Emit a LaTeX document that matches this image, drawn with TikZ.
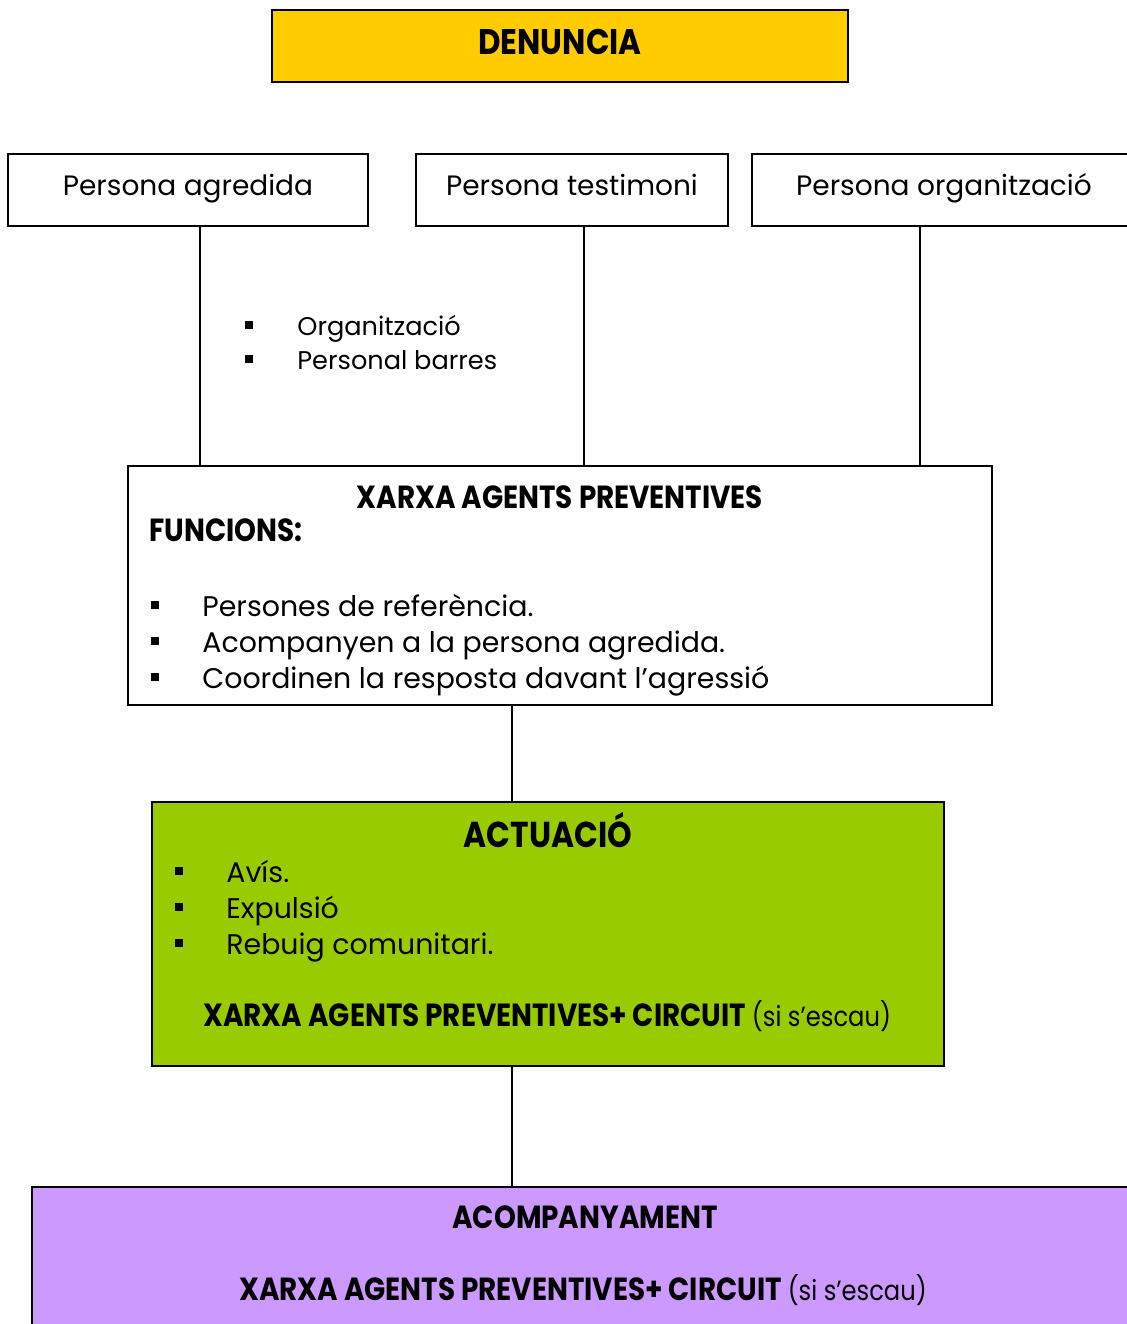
\documentclass[tikz,border=0pt]{standalone}
\usepackage{fontspec}
\setmainfont{Poppins}
\newfontfamily\headfont[FakeStretch=0.87]{Poppins}
\usetikzlibrary{positioning,calc}

\definecolor{denunciayellow}{HTML}{FFCC00}
\definecolor{actuaciogreen}{HTML}{99CC00}
\definecolor{acompanyamentlila}{HTML}{CC99FF}

\tikzset{
  box/.style={draw=black, line width=1pt, rectangle, inner sep=0pt},
  title/.style={font=\headfont\bfseries\fontsize{16}{19}\selectfont, inner sep=0pt},
  body/.style={font=\fontsize{14}{17}\selectfont, inner sep=0pt, anchor=mid west},
  bullet/.style={fill=black, minimum width=3.8pt, minimum height=4.3pt, inner sep=0pt},
  link/.style={line width=0.8pt}
}

\begin{document}
\begin{tikzpicture}[x=0.5pt,y=-0.5pt]
    \useasboundingbox (0,0) rectangle (1126,1324);

    % boxes
    \node (denuncia) [box, fill=denunciayellow, minimum width=288pt, minimum height=36pt] at (560,46) {};
    \node (agredida) [box, minimum width=180pt, minimum height=36pt] at (188,190) {};
    \node (testimoni) [box, minimum width=156pt, minimum height=36pt] at (572,190) {};
    \node (organitzacio) [box, minimum width=194pt, minimum height=36pt] at (946,190) {};
    \node (xarxa) [box, minimum width=432pt, minimum height=119.5pt] at (560,585.5) {};
    \node (actuacio) [box, fill=actuaciogreen, minimum width=396pt, minimum height=132pt] at (548,934) {};
    \node (acompanyament) [box, fill=acompanyamentlila, minimum width=554pt, minimum height=76.5pt] at (586,1263.5) {};

    % connectors
    \draw [link] (agredida.south -| 200,0) -- (xarxa.north -| 200,0);
    \draw [link] (testimoni.south -| 584,0) -- (xarxa.north -| 584,0);
    \draw [link] (organitzacio.south -| 920,0) -- (xarxa.north -| 920,0);
    \draw [link] (xarxa.south -| 512,0) -- (actuacio.north -| 512,0);
    \draw [link] (actuacio.south -| 512,0) -- (acompanyament.north -| 512,0);

    % top texts
    \node (denunciatxt) [title, font=\headfont\bfseries\fontsize{17.8}{21}\selectfont] at (560,42) {DENUNCIA};
    \node (agredidatxt) [body, anchor=mid] at (188,190) {Persona agredida};
    \node (testimonitxt) [body, anchor=mid] at (572,190) {Persona testimoni};
    \node (organitzaciotxt) [body, anchor=mid] at (944,190) {Persona organització};

    % who receives
    \foreach \t [count=\i] in {Organització, Personal barres} {
        \node (qb\i) [bullet] at (249,{291+34*\i}) {};
        \node (qt\i) [body, font=\fontsize{12.8}{15}\selectfont] at (297,{296+34*\i}) {\t};
    }

    % xarxa
    \node (xarxatitle) [title] at (560,497) {XARXA AGENTS PREVENTIVES};
    \node (funcions) [title, anchor=mid west] at (149,536) {FUNCIONS:};
    \foreach \t [count=\i] in {Persones de referència., Acompanyen a la persona agredida., Coordinen la resposta davant l’agressió} {
        \node (fb\i) [bullet] at (155,{569+36*\i}) {};
        \node (ft\i) [body, font=\fontsize{14.2}{17}\selectfont] at (202,{575+36*\i}) {\t};
    }

    % actuacio
    \node (actuaciotitle) [title, font=\headfont\bfseries\fontsize{18}{21}\selectfont] at (548,830) {ACTUACIÓ};
    \foreach \t [count=\i] in {Avís., Expulsió, Rebuig comunitari.} {
        \node (ab\i) [bullet] at (179,{835+36*\i}) {};
        \node (at\i) [body, font=\fontsize{14.2}{17}\selectfont] at (226,{841+36*\i}) {\t};
    }
    \node (actuaciocircuit) [title, anchor=mid west] at (203,1021)
        {XARXA AGENTS PREVENTIVES+ CIRCUIT {\mdseries\fontsize{13.9}{16}\selectfont (si s’escau)}};

    % acompanyament
    \node (acomptitle) [title] at (585,1217) {ACOMPANYAMENT};
    \node (acompcircuit) [title] at (583,1290)
        {XARXA AGENTS PREVENTIVES+ CIRCUIT {\mdseries\fontsize{13.9}{16}\selectfont (si s’escau)}};
\end{tikzpicture}
\end{document}
